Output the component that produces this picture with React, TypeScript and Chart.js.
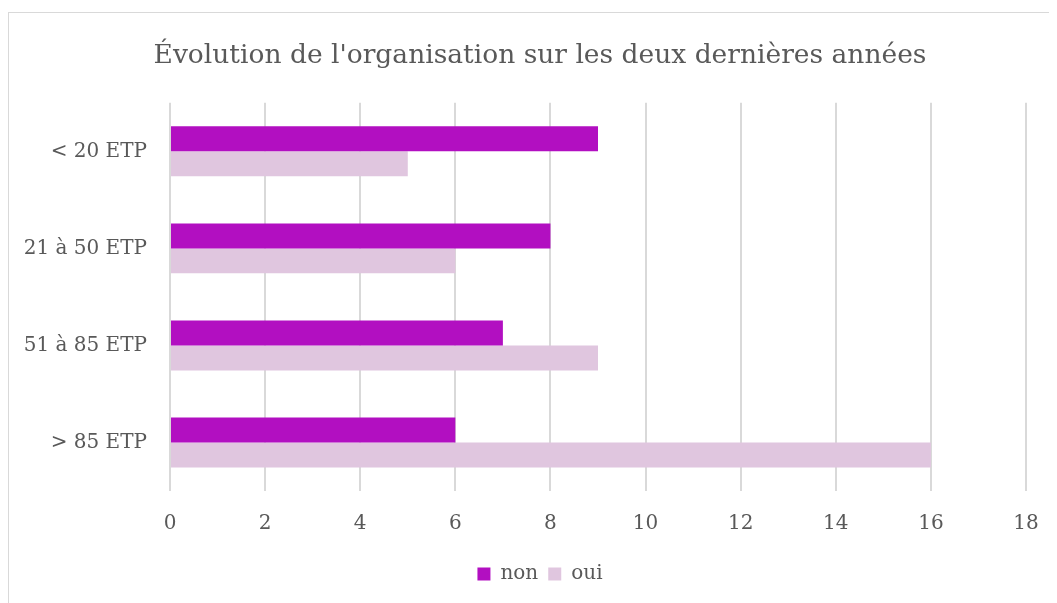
import React, { useEffect, useRef } from "react";
import { Chart, registerables } from "chart.js";

Chart.register(...registerables);

const title = "Évolution de l'organisation sur les deux dernières années";
const categories = ["< 20 ETP", "21 à 50 ETP", "51 à 85 ETP", "> 85 ETP"];
const nonValues = [9, 8, 7, 6];
const ouiValues = [5, 6, 9, 16];
const seriesNames = ["non", "oui"];
const xMin = 0;
const xMax = 18;
const xStep = 2;

const FONT = "'DejaVu Serif', serif";
const TEXT = "#595959";

export default function App() {
  const ref = useRef<HTMLCanvasElement | null>(null);
  useEffect(() => {
    if (!ref.current) return;
    const chart = new Chart(ref.current, {
      type: "bar",
      data: {
        labels: categories,
        datasets: [
          {
            label: seriesNames[0],
            data: nonValues,
            backgroundColor: "#B20FC1",
            categoryPercentage: 0.515,
            barPercentage: 1.0,
          },
          {
            label: seriesNames[1],
            data: ouiValues,
            backgroundColor: "#E0C6DF",
            categoryPercentage: 0.515,
            barPercentage: 1.0,
          },
        ],
      },
      options: {
        indexAxis: "y",
        animation: false,
        responsive: false,
        layout: { padding: { left: 0, right: 0, top: 0, bottom: 9 } },
        plugins: {
          title: {
            display: true,
            text: title,
            color: TEXT,
            font: { family: FONT, size: 26.5, weight: "normal" },
            padding: { top: 27, bottom: 31 },
          },
          legend: {
            position: "bottom",
            labels: {
              color: TEXT,
              font: { family: FONT, size: 20 },
              boxWidth: 13,
              boxHeight: 13,
              padding: 10,
            },
          },
          tooltip: { enabled: false },
        },
        scales: {
          x: {
            min: xMin,
            max: xMax,
            ticks: {
              stepSize: xStep,
              color: TEXT,
              font: { family: FONT, size: 20 },
              padding: 3,
            },
            grid: {
              color: "#D9D9D9",
              lineWidth: 2,
              drawTicks: true,
              tickLength: 18,
              tickColor: "rgba(0,0,0,0)",
            },
            border: { display: false },
            afterFit: (s: any) => {
              s.height = 63;
            },
          },
          y: {
            ticks: {
              color: TEXT,
              font: { family: FONT, size: 20 },
              padding: 23,
            },
            grid: { display: false, drawTicks: false },
            border: { display: false },
            afterFit: (s: any) => {
              s.width = 161;
            },
          },
          y2: {
            type: "category",
            position: "right",
            labels: categories,
            ticks: { display: false },
            grid: { display: false, drawTicks: false },
            border: { display: false },
            afterFit: (s: any) => {
              s.width = 45;
            },
          },
        },
      },
    });
    return () => chart.destroy();
  }, []);
  return (
    <div
      style={{
        marginTop: 4,
        width: 1046,
        height: 600,
        border: "1px solid #D9D9D9",
        background: "#fff",
        overflow: "hidden",
      }}
    >
      <canvas ref={ref} width={1062} height={590} style={{ display: "block" }} />
    </div>
  );
}
